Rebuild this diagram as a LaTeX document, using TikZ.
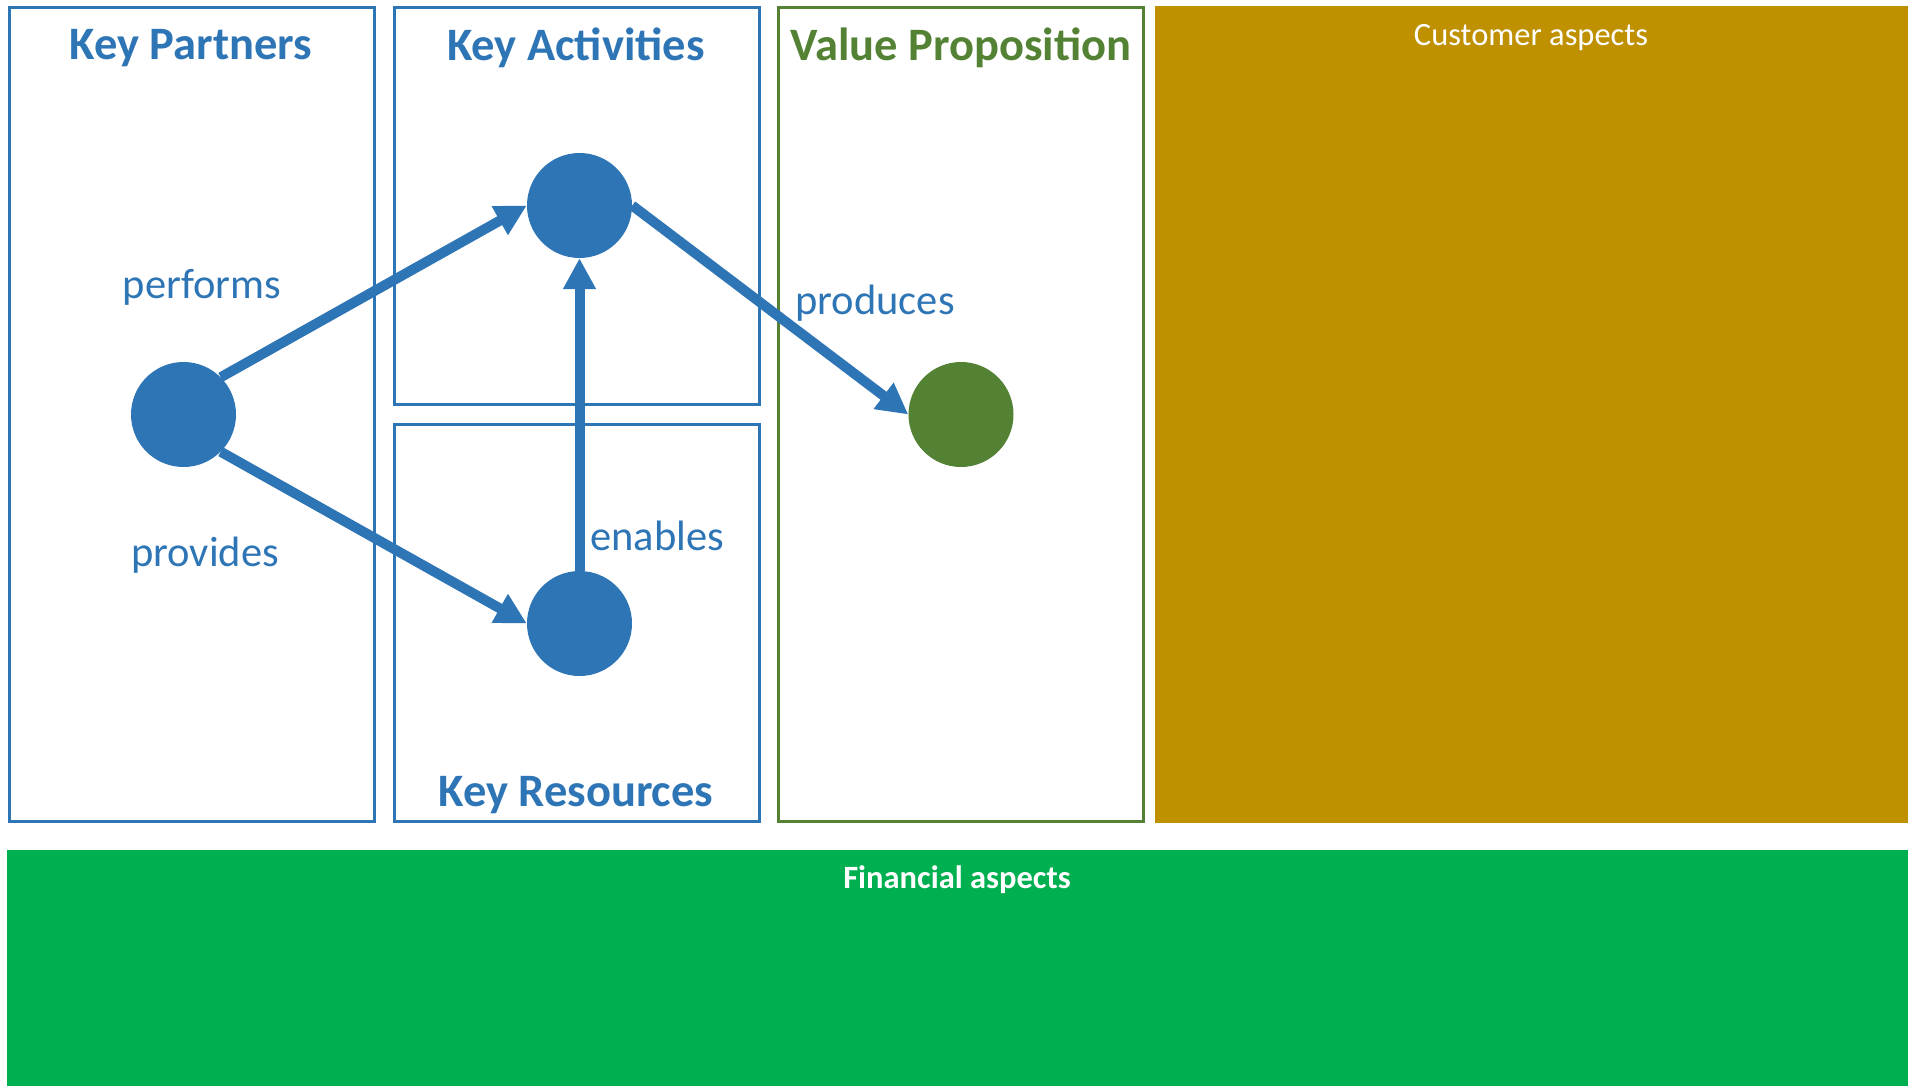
\documentclass[tikz,border=0pt]{standalone}
\usepackage{fontspec}
\setmainfont{Carlito}
\usetikzlibrary{arrows.meta}
\definecolor{kblue}{HTML}{2E75B6}
\definecolor{kgreen}{HTML}{548235}
\definecolor{kgold}{HTML}{BF9000}
\definecolor{kfin}{HTML}{00B050}
\tikzset{
  box/.style={draw=kblue, line width=3pt},
  vpbox/.style={draw=kgreen, line width=3pt},
  title/.style={text=kblue, font=\bfseries\fontsize{46.5}{54}\selectfont, inner sep=0pt},
  lbl/.style={text=kblue, font=\fontsize{42.5}{50}\selectfont, inner sep=0pt},
  dot/.style={circle, fill=kblue, minimum size=105pt, inner sep=0pt},
  conn/.style={draw=kblue, line width=10pt, -{Triangle[length=31pt,width=31pt]}},
  wtext/.style={text=white, font=\fontsize{32.5}{39}\selectfont, inner sep=0pt},
}
\begin{document}
\begin{tikzpicture}[x=1pt,y=-1pt]
\useasboundingbox (0,0) rectangle (1917,1086);
\fill[white] (0,0) rectangle (1917,1086);
% boxes
\draw[box] (9,8) rectangle (374,821);
\draw[box] (394,8) rectangle (759,404);
\draw[box] (394,424) rectangle (759,821);
\draw[vpbox] (778,8) rectangle (1143,821);
\fill[kgold] (1155,6) rectangle (1908,823);
\fill[kfin] (7,850) rectangle (1908,1086);
% titles
\node[title] (tkp) at (191,48) {Key Partners};
\node[title] (tka) at (576,48) {Key Activities};
\node[title, text=kgreen] (tvp) at (961,48) {Value Proposition};
\node[title] (tkr) at (576,795) {Key Resources};
\node[wtext] (tca) at (1531,38) {Customer aspects};
\node[wtext, font=\bfseries\fontsize{32.5}{39}\selectfont] (tfa) at (957,880) {Financial aspects};
% circles
\node[dot] (kp) at (183.5,414.5) {};
\node[dot] (ka) at (579.5,205.5) {};
\node[dot] (kr) at (579.5,623.5) {};
\node[dot, fill=kgreen] (vp) at (961,414.5) {};
% connectors
\draw[conn] (kp.north east) -- (ka.west);
\draw[conn] (kp.south east) -- (kr.west);
\draw[conn] (kr.north) -- (ka.south);
\draw[conn] (ka.east) -- (vp.west);
% labels
\node[lbl] (lperf) at (202,287) {performs};
\node[lbl] (lprov) at (205,555) {provides};
\node[lbl] (lenab) at (657,536) {enables};
\node[lbl] (lprod) at (875,303) {produces};
\end{tikzpicture}
\end{document}
